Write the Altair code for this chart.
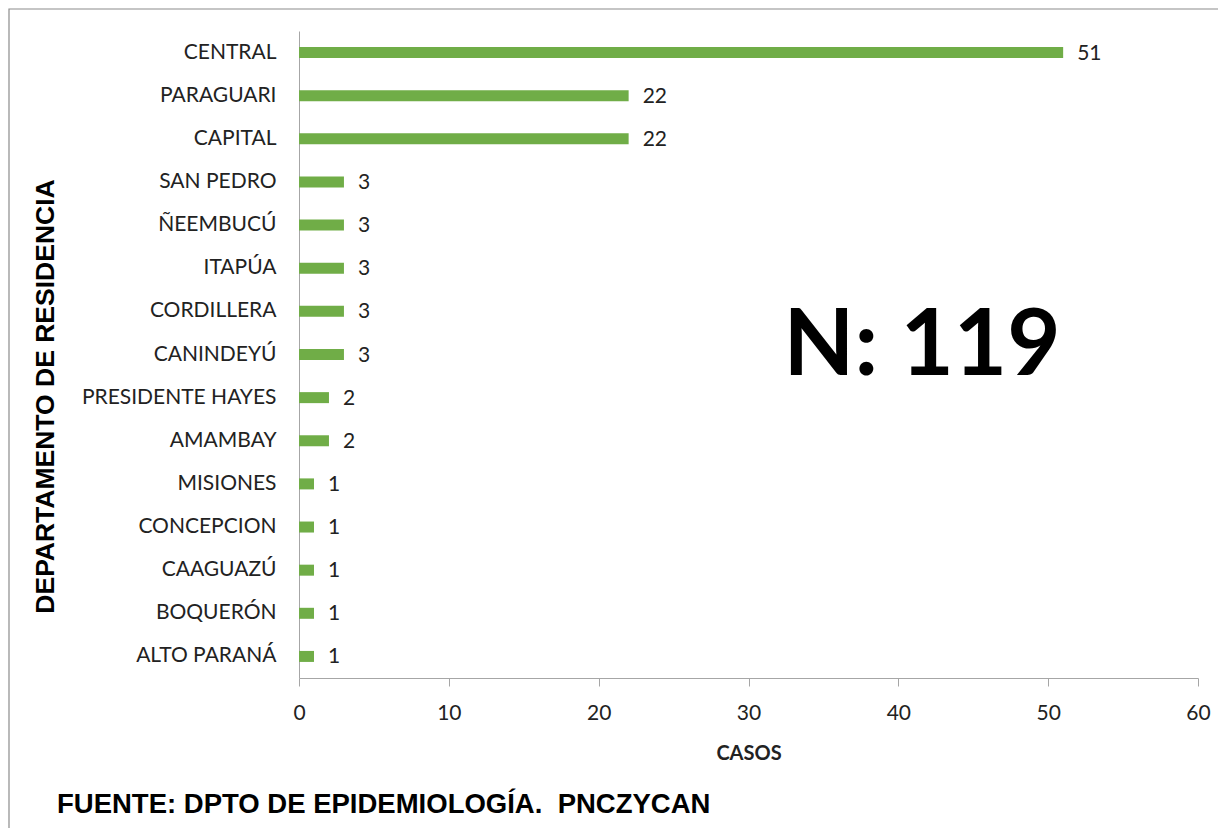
import altair as alt
import pandas as pd

departamentos = ["CENTRAL", "PARAGUARI", "CAPITAL", "SAN PEDRO", "ÑEEMBUCÚ", "ITAPÚA",
                 "CORDILLERA", "CANINDEYÚ", "PRESIDENTE HAYES", "AMAMBAY", "MISIONES",
                 "CONCEPCION", "CAAGUAZÚ", "BOQUERÓN", "ALTO PARANÁ"]
casos = [51, 22, 22, 3, 3, 3, 3, 3, 2, 2, 1, 1, 1, 1, 1]
x_ticks = [0, 10, 20, 30, 40, 50, 60]
total_label = "N: 119"
fuente = "FUENTE: DPTO DE EPIDEMIOLOGÍA.\u00a0 PNCZYCAN"

df = pd.DataFrame({"dep": departamentos, "casos": casos})

LABEL_FONT = "Lato"
TXT = "#222222"
GRAY = "#A6A6A6"

y_enc = alt.Y("dep:N", sort=departamentos,
              scale=alt.Scale(paddingInner=0, paddingOuter=0),
              axis=alt.Axis(title="DEPARTAMENTO DE RESIDENCIA", ticks=False, grid=False,
                            labelPadding=23, labelLimit=0, labelFont=LABEL_FONT,
                            labelFontSize=21, labelColor=TXT, domainColor=GRAY,
                            titleFont="Liberation Sans", titleFontSize=26.5,
                            titleFontWeight="bold", titleColor="#000000",
                            titleX=-254, titleY=365, titleAngle=270,
                            titleAlign="center", titleBaseline="middle"))
x_enc = alt.X("casos:Q",
              scale=alt.Scale(domain=[0, 60], nice=False),
              axis=alt.Axis(title="CASOS", values=x_ticks, grid=False, tickSize=8,
                            tickColor=GRAY, domainColor=GRAY, labelPadding=16,
                            labelFlush=False, labelBound=False,
                            labelFont=LABEL_FONT, labelFontSize=21, labelColor=TXT,
                            titleFont=LABEL_FONT, titleFontSize=20, titleFontWeight="bold",
                            titleColor=TXT, titlePadding=20))

base = alt.Chart(df).encode(x=x_enc, y=y_enc)
bars = base.mark_bar(size=11, color="#70AD47")
labels = base.mark_text(align="left", baseline="middle", dx=14, dy=1, font=LABEL_FONT,
                        fontSize=21, color=TXT).encode(text="casos:Q")

ann = alt.Data(values=[{"n": total_label, "f": fuente}])
n_text = alt.Chart(ann).mark_text(font=LABEL_FONT, fontSize=92, fontWeight="bold",
                                  color="#000000", align="center", baseline="middle").encode(
    x=alt.value(623), y=alt.value(316), text="n:N")
foot = alt.Chart(ann).mark_text(font="Liberation Sans", fontSize=27.5, fontWeight="bold",
                                color="#000000", align="left", baseline="middle").encode(
    x=alt.value(-242), y=alt.value(774), text="f:N")
frame = alt.Chart(ann).mark_rect(filled=False, stroke="#8C8C8C", strokeWidth=1.2).encode(
    x=alt.value(-290), x2=alt.value(1200), y=alt.value(-22), y2=alt.value(1000))

chart = alt.layer(frame, bars, labels, n_text, foot).properties(
    width=899, height=647,
    background="white",
    autosize=alt.AutoSizeParams(type="none"),
    padding={"left": 291, "top": 23, "right": 20, "bottom": 150},
).configure(view=alt.ViewConfig(stroke="#ffffff", strokeWidth=1))

chart.save("out.html", embed_options={"renderer": "svg", "actions": False})
